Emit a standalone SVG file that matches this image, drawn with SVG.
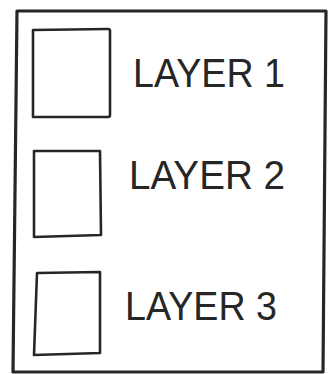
<svg xmlns="http://www.w3.org/2000/svg" width="333" height="374" viewBox="0 0 333 374">
<style>
.frame{fill:none;stroke:#262626;stroke-width:3.2;stroke-linejoin:round;stroke-linecap:round}
.box{fill:#fff;stroke:#262626;stroke-width:2.6;stroke-linejoin:round}
.lbl{font-family:"Liberation Sans",Arial,sans-serif;font-size:40px;fill:#262626}
</style>
<rect width="333" height="374" fill="#fff"/>
<path class="frame" d="M17,11 L326,11 L323,372 L13,372 Z"/>
<g id="layer1">
<path class="box" d="M33,30 L108,29 Q110,29 110,31 L110,115 Q110,117 108,117 L33,117 Z"/>
<text class="lbl" x="133" y="87" textLength="152" lengthAdjust="spacingAndGlyphs">LAYER 1</text>
</g>
<g id="layer2">
<path class="box" d="M34,151 L100,151 L101,235 L34,237 Z"/>
<text class="lbl" x="129" y="189" textLength="156" lengthAdjust="spacingAndGlyphs">LAYER 2</text>
</g>
<g id="layer3">
<path class="box" d="M37,273 L100,272 L100,353 L34,355 Z"/>
<text class="lbl" x="125" y="320" textLength="152" lengthAdjust="spacingAndGlyphs">LAYER 3</text>
</g>
</svg>
